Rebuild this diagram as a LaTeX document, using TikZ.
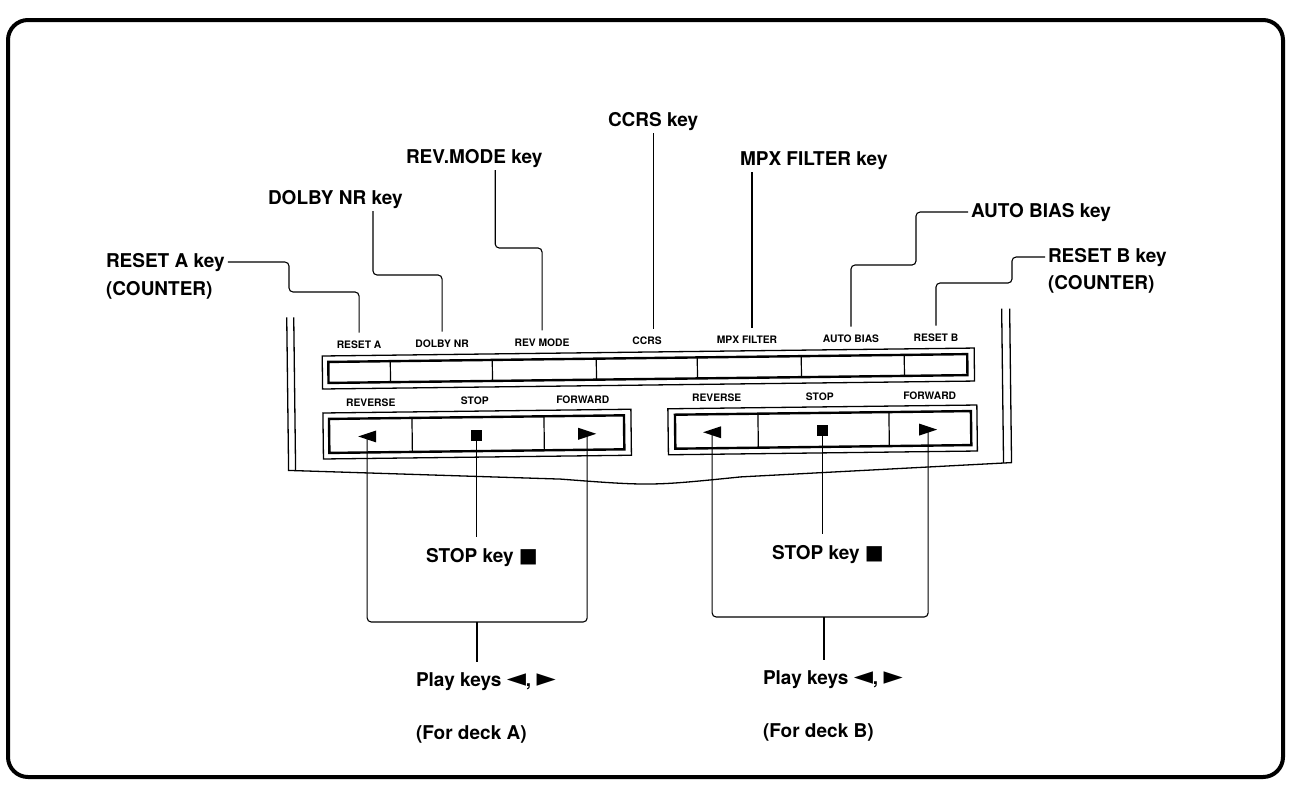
\documentclass[tikz,border=0pt]{standalone}
\usepackage{fontspec}
\setmainfont{TeX Gyre Heros}
\newfontfamily\symf{DejaVu Sans}
\begin{document}
\begin{tikzpicture}[x=1pt,y=-1pt,
  lead/.style={line width=1.1pt, rounded corners=4pt},
  toplead/.style={lead, shorten >=5pt},
  big/.style={font=\bfseries\fontsize{19}{22}\selectfont, inner sep=0pt, outer sep=3pt, anchor=base west},
  small/.style={font=\bfseries\fontsize{10.3}{12}\selectfont, inner sep=0pt, outer sep=3pt},
  thinline/.style={line width=1.3pt},
  thickline/.style={line width=2.4pt},
  divider/.style={line width=1.2pt},
  lkey/.pic={\fill (-9,0) -- (9,-6) -- (9,6) -- cycle;},
  rkey/.pic={\fill (9,0) -- (-9,-6) -- (-9,6) -- cycle;},
  skey/.pic={\fill (-5.5,-5.5) rectangle (5.5,5.5);}
]
\useasboundingbox (0,0) rectangle (1290,785);
\fill[white] (0,0) rectangle (1290,785);
\draw[line width=4pt, rounded corners=20pt] (8,20) rectangle (1283,777);

\begin{scope}[rotate around={0.7:(650,420)}]
  % panel outline
  \draw[thinline] (288,313) -- (288,466) -- (560,478) .. controls (650,486) .. (740,478) -- (1011,467) -- (1011,313);
  \draw[thinline] (295,313) -- (295,466.3);
  \draw[thinline] (1003,313) -- (1003,467.3);
  % key strip
  \draw[thinline] (323,352) rectangle (975,385);
  \draw[thickline] (329,358) rectangle (968,379);
  \foreach \x in {391,493,597,698,802,905} \draw[divider] (\x,358) -- (\x,379);
  \node[small] (sRA) at (360,341) {RESET A};
  \node[small] (sDN) at (443,341) {DOLBY NR};
  \node[small] (sRM) at (543,341) {REV MODE};
  \node[small] (sCC) at (648,341) {CCRS};
  \node[small] (sMF) at (748,341) {MPX FILTER};
  \node[small] (sAB) at (852,341) {AUTO BIAS};
  \node[small] (sRB) at (937,341) {RESET B};
  % deck A
  \draw[thinline] (323,409) rectangle (631,455);
  \draw[thickline] (329,415) rectangle (624,449);
  \foreach \x in {412,544} \draw[divider] (\x,415) -- (\x,449);
  \node[small] (rvA) at (371,399) {REVERSE};
  \node[small] (spA) at (475,399) {STOP};
  \node[small] (fwA) at (583,399) {FORWARD};
  \pic at (367,433) {lkey}; \coordinate (aL) at (367,433);
  \pic at (476,433) {skey}; \coordinate (aS) at (476,433);
  \pic at (587,433) {rkey}; \coordinate (aR) at (587,433);
  % deck B
  \draw[thinline] (668,409) rectangle (977,455);
  \draw[thickline] (675,415) rectangle (971,449);
  \foreach \x in {758,889} \draw[divider] (\x,415) -- (\x,449);
  \node[small] (rvB) at (717,399) {REVERSE};
  \node[small] (spB) at (820,399) {STOP};
  \node[small] (fwB) at (930,399) {FORWARD};
  \pic at (712,433) {lkey}; \coordinate (bL) at (712,433);
  \pic at (822,433) {skey}; \coordinate (bS) at (822,433);
  \pic at (928,433) {rkey}; \coordinate (bR) at (928,433);
\end{scope}

% outer labels
\node[big] (kRA)  at (103,267) {RESET A key};
\node[big] (kRAc) at (103,295) {(COUNTER)};
\node[big] (kDN)  at (265,204) {DOLBY NR key};
\node[big] (kRM)  at (403,163) {REV.MODE key};
\node[big] (kCC)  at (605,126) {CCRS key};
\node[big] (kMF)  at (737,165) {MPX FILTER key};
\node[big] (kAB)  at (968,217) {AUTO BIAS key};
\node[big] (kRB)  at (1045,262) {RESET B key};
\node[big] (kRBc) at (1045,289) {(COUNTER)};

\draw[toplead] (kRA.east) -| (289,292) -| (sRA.north);
\coordinate (dnTop) at ([xshift=108pt]kDN.south west);
\draw[toplead] (dnTop) |- (400,275) -| (sDN.north);
\coordinate (rmTop) at ([xshift=21pt]kRM.south);
\draw[toplead] (rmTop) |- (520,248) -| (sRM.north);
\draw[toplead] (kCC.south) -- (kCC.south |- sCC.north);
\coordinate (mfTop) at ([xshift=15pt]kMF.south west);
\draw[toplead] (mfTop) -- (mfTop |- sMF.north);
\draw[toplead] (kAB.west) -| (916,265) -| (sAB.north);
\draw[toplead] (kRB.west) -| (1012,283) -| (sRB.north);

% bottom labels
\node[big] (stA) at (423,562) {STOP key {\symf\fontsize{20}{20}\selectfont ■}};
\node[big] (pA)  at (413,686) {Play keys {\symf\fontsize{25}{25}\selectfont ◄}, {\symf\fontsize{25}{25}\selectfont ►}};
\node[big] (fA)  at (413,739) {(For deck A)};
\node[big] (stB) at (769,559) {STOP key {\symf\fontsize{20}{20}\selectfont ■}};
\node[big] (pB)  at (760,684) {Play keys {\symf\fontsize{25}{25}\selectfont ◄}, {\symf\fontsize{25}{25}\selectfont ►}};
\node[big] (fB)  at (760,737) {(For deck B)};

\coordinate (brA) at (477,622);
\draw[lead] (aL) |- (brA) -| (aR);
\draw[lead, shorten >=7pt] (brA) -- (brA |- pA.north);
\draw[lead, shorten >=8pt] (aS) -- (aS |- stA.north);

\coordinate (brB) at (824,617);
\draw[lead] (bL) |- (brB) -| (bR);
\draw[lead, shorten >=7pt] (brB) -- (brB |- pB.north);
\draw[lead, shorten >=8pt] (bS) -- (bS |- stB.north);
\end{tikzpicture}
\end{document}
